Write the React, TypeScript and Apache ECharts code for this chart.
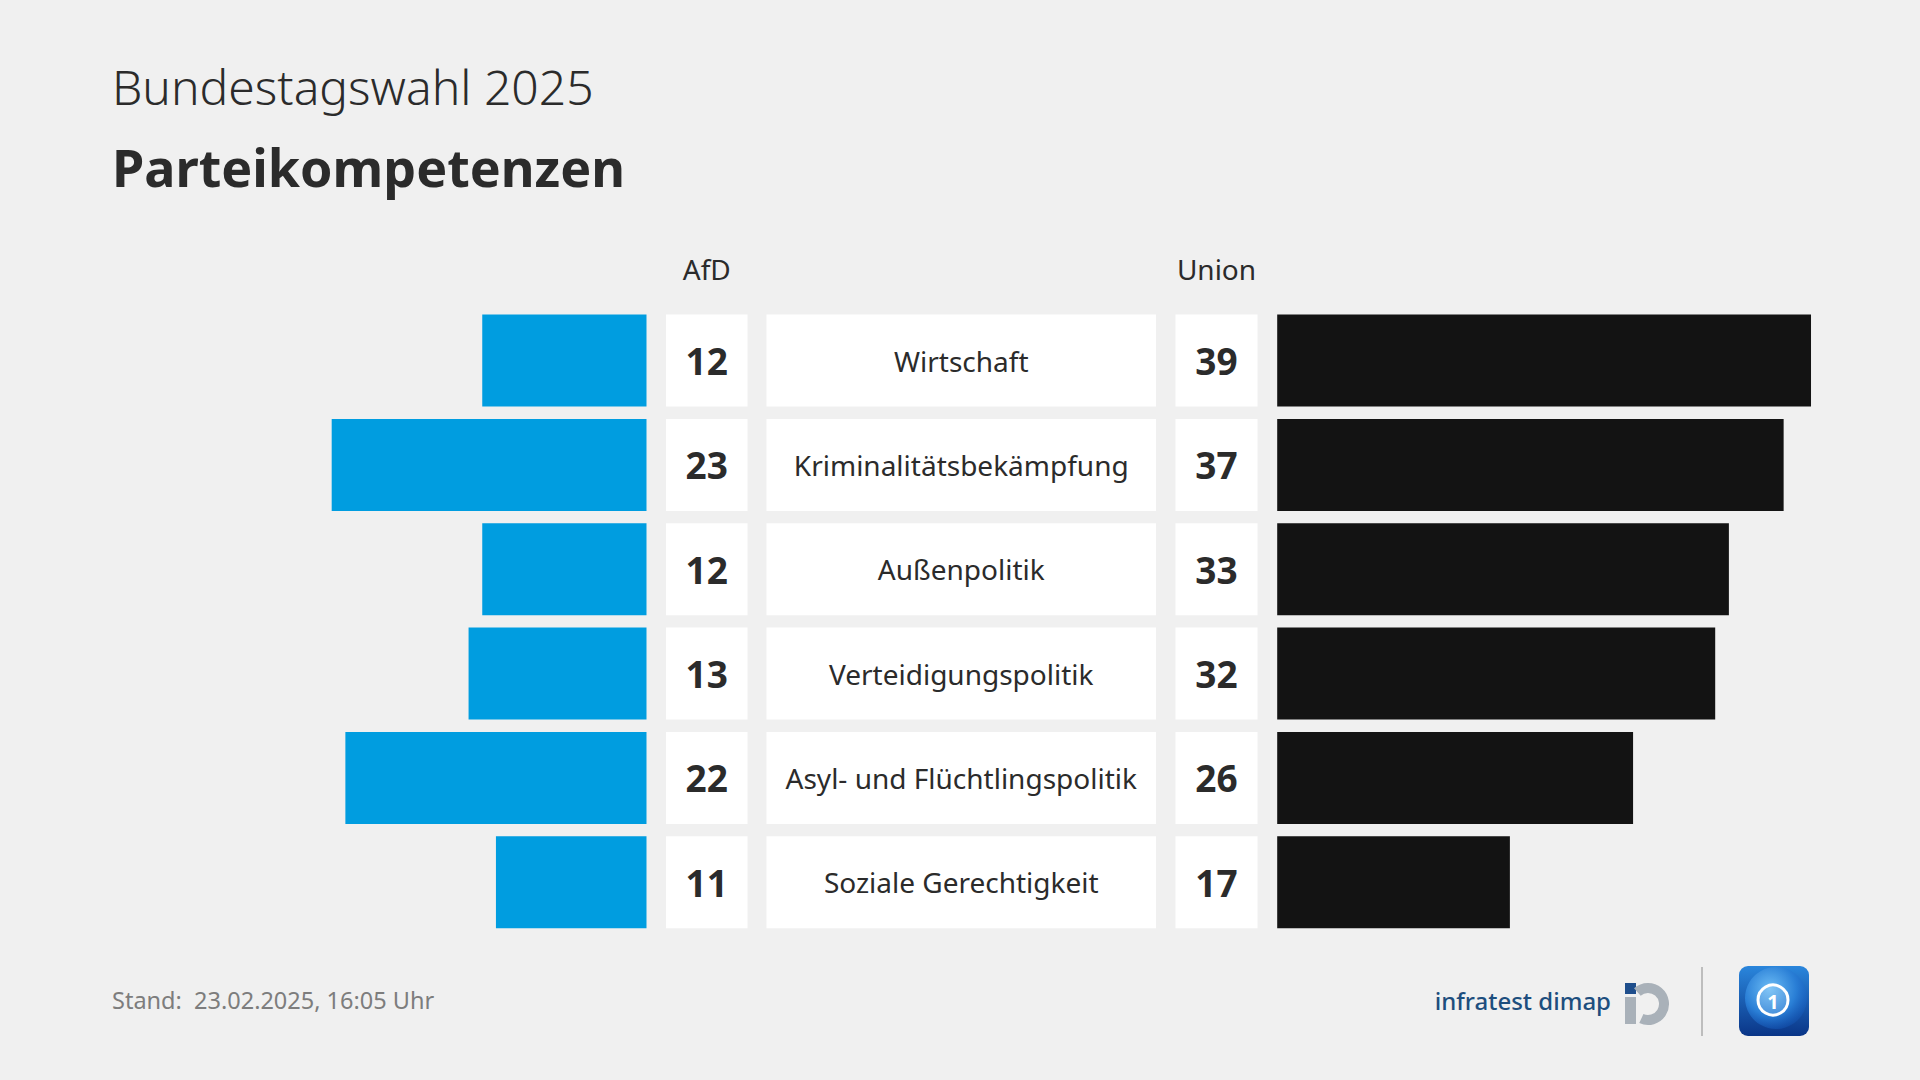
import React, { useEffect, useRef } from "react";
import * as echarts from "echarts";

// ---- data ----
const categories = [
  "Wirtschaft",
  "Kriminalitätsbekämpfung",
  "Außenpolitik",
  "Verteidigungspolitik",
  "Asyl- und Flüchtlingspolitik",
  "Soziale Gerechtigkeit",
];
const afdValues = [12, 23, 12, 13, 22, 11];
const unionValues = [39, 37, 33, 32, 26, 17];
const partyHeaders = ["AfD", "Union"];
const axisMax = 40;

const subtitleText = "Bundestagswahl 2025";
const titleText = "Parteikompetenzen";
const footerText = "Stand:  23.02.2025, 16:05 Uhr";
const sourceText = "infratest dimap";

// ---- layout / style ----
const FONT = "'Noto Sans', 'Open Sans', sans-serif";
const TEXT = "#2b2b2b";
const BLUE = "#009de0";
const BLACK = "#131313";
const BG = "#f0f0f0";
const GRID_TOP = 308.4;
const GRID_H = 626;
const BAR_W = 92;

const gridBoxes = [
  { left: 99, width: 547.5 }, // AfD bars
  { left: 666, width: 81.5 }, // AfD numbers
  { left: 766.5, width: 389.5 }, // categories
  { left: 1175.5, width: 82 }, // Union numbers
  { left: 1277.2, width: 547.5 }, // Union bars
];

function buildOption(): any {
  const grid = gridBoxes.map((g) => ({
    left: g.left,
    width: g.width,
    top: GRID_TOP,
    height: GRID_H,
    containLabel: false,
  }));
  const xAxis = gridBoxes.map((_, i) => ({
    type: "value",
    gridIndex: i,
    show: false,
    min: 0,
    max: i === 0 || i === 4 ? axisMax : 1,
    inverse: i === 0,
  }));
  const yAxis = gridBoxes.map((_, i) => ({
    type: "category",
    gridIndex: i,
    data: categories,
    inverse: true,
    show: false,
  }));

  const cellSeries = (idx: number, labels: (string | number)[], fontSize: number, bold: boolean) => ({
    type: "bar",
    xAxisIndex: idx,
    yAxisIndex: idx,
    silent: true,
    barWidth: BAR_W,
    itemStyle: { color: "#ffffff" },
    data: labels.map(() => 1),
    label: {
      show: true,
      position: "inside",
      formatter: (p: any) => String(labels[p.dataIndex]),
      color: TEXT,
      fontFamily: FONT,
      fontSize,
      fontWeight: bold ? "bold" : "normal",
    },
  });

  const series = [
    {
      type: "bar",
      xAxisIndex: 0,
      yAxisIndex: 0,
      silent: true,
      barWidth: BAR_W,
      itemStyle: { color: BLUE },
      data: afdValues,
    },
    cellSeries(1, afdValues, 37, true),
    cellSeries(2, categories, 28, false),
    cellSeries(3, unionValues, 37, true),
    {
      type: "bar",
      xAxisIndex: 4,
      yAxisIndex: 4,
      silent: true,
      barWidth: BAR_W,
      itemStyle: { color: BLACK },
      data: unionValues,
    },
  ];

  const headerCenters = [
    gridBoxes[1].left + gridBoxes[1].width / 2,
    gridBoxes[3].left + gridBoxes[3].width / 2,
  ];

  const graphic: any[] = [
    {
      type: "text",
      left: 112,
      top: 62,
      style: { text: subtitleText, font: `300 48px ${FONT}`, fill: TEXT },
    },
    {
      type: "text",
      left: 112,
      top: 140,
      style: { text: titleText, font: `bold 52px ${FONT}`, fill: TEXT },
    },
    ...partyHeaders.map((h, i) => ({
      type: "text",
      x: headerCenters[i],
      y: 269,
      style: {
        text: h,
        font: `28px ${FONT}`,
        fill: TEXT,
        textAlign: "center",
        textVerticalAlign: "middle",
      },
    })),
    {
      type: "text",
      x: 112,
      y: 1000,
      style: {
        text: footerText,
        font: `23.5px ${FONT}`,
        fill: "#7d7d7d",
        textAlign: "left",
        textVerticalAlign: "middle",
      },
    },
    {
      type: "text",
      x: 1611,
      y: 1000,
      style: {
        text: sourceText,
        font: `500 24px ${FONT}`,
        fill: "#1d4e7e",
        textAlign: "right",
        textVerticalAlign: "middle",
      },
    },
    // iD logo
    { type: "rect", shape: { x: 1625, y: 983, width: 11, height: 11 }, style: { fill: "#1f4e8c" } },
    { type: "rect", shape: { x: 1625, y: 997, width: 11, height: 27 }, style: { fill: "#a9b1b9" } },
    {
      type: "arc",
      shape: { cx: 1648, cy: 1004, r: 16, startAngle: -2.3, endAngle: 2.0, clockwise: true },
      style: { stroke: "#a9b1b9", lineWidth: 10, fill: null },
    },
    // divider
    {
      type: "line",
      shape: { x1: 1702, y1: 967, x2: 1702, y2: 1036 },
      style: { stroke: "#bdbdbd", lineWidth: 2 },
    },
    // ARD / tagesschau logo
    {
      type: "rect",
      shape: { x: 1739, y: 966, width: 70, height: 70, r: 9 },
      style: {
        fill: new echarts.graphic.LinearGradient(0, 0, 0, 1, [
          { offset: 0, color: "#2a86dc" },
          { offset: 1, color: "#0a3587" },
        ]),
      },
    },
    {
      type: "circle",
      shape: { cx: 1776, cy: 998, r: 31 },
      style: {
        fill: new echarts.graphic.RadialGradient(0.4, 0.35, 0.7, [
          { offset: 0, color: "#6cbcf5" },
          { offset: 0.6, color: "#2a7fd6" },
          { offset: 1, color: "rgba(20,90,190,0.3)" },
        ]),
      },
    },
    {
      type: "circle",
      shape: { cx: 1773, cy: 1000, r: 15 },
      style: { fill: "rgba(255,255,255,0.15)", stroke: "#ffffff", lineWidth: 3 },
    },
    {
      type: "text",
      x: 1773,
      y: 1001,
      style: {
        text: "1",
        font: `bold 20px ${FONT}`,
        fill: "#ffffff",
        textAlign: "center",
        textVerticalAlign: "middle",
      },
    },
  ];

  return {
    animation: false,
    backgroundColor: BG,
    textStyle: { fontFamily: FONT },
    grid,
    xAxis,
    yAxis,
    series,
    graphic,
  };
}

export default function App() {
  const ref = useRef<HTMLDivElement>(null);
  useEffect(() => {
    const chart = echarts.init(ref.current!, null, { renderer: "svg" });
    chart.setOption(buildOption());
    return () => chart.dispose();
  }, []);
  return (
    <div
      ref={ref}
      style={{ position: "absolute", left: 0, top: 0, width: 1920, height: 1080 }}
    />
  );
}
